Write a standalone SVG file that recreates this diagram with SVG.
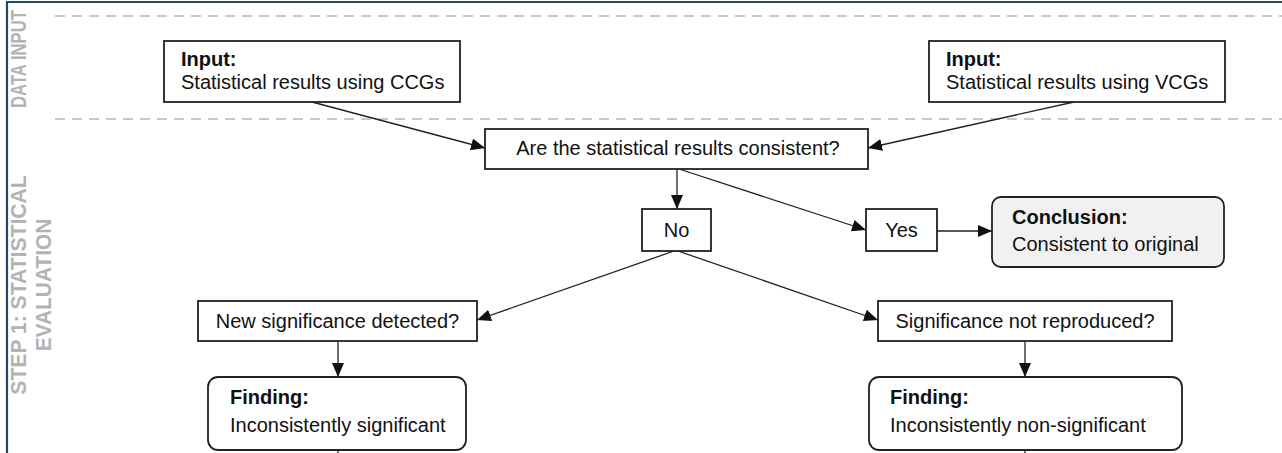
<svg xmlns="http://www.w3.org/2000/svg" width="1282" height="453" viewBox="0 0 1282 453">
  <defs>
    <marker id="arrow" viewBox="0 0 14 12" refX="14" refY="6" markerWidth="14" markerHeight="12" markerUnits="userSpaceOnUse" orient="auto">
      <path d="M0,0 L14,6 L0,12 Z" fill="#111"/>
    </marker>
    <style>
      .box { fill: #ffffff; stroke: #222; stroke-width: 1.8; }
      .term { fill: #ffffff; stroke: #222; stroke-width: 1.8; }
      .concl { fill: #f2f1f2; stroke: #222; stroke-width: 1.8; }
      .edge { fill: none; stroke: #222; stroke-width: 1.3; }
      .lane { stroke: #c8c8c8; stroke-width: 2; stroke-dasharray: 10 7; }
      .frame { stroke: #1f4a6b; stroke-width: 2.2; fill: none; }
      text { font-family: "Liberation Sans", Arial, sans-serif; fill: #111; }
      .t { font-size: 20px; }
      .b { font-size: 20px; font-weight: bold; }
      .c { text-anchor: middle; }
      .lane-label { font-size: 22px; font-weight: bold; fill: #b3b3b3; text-anchor: middle; }
    </style>
  </defs>

  <rect width="1282" height="453" fill="#ffffff"/>

  <!-- frame -->
  <path class="frame" d="M7,453 V2 H1282"/>

  <!-- swimlane separators -->
  <line class="lane" x1="55" y1="16" x2="1282" y2="16"/>
  <line class="lane" x1="55" y1="119" x2="1282" y2="119"/>

  <!-- lane labels (rotated, condensed along the reading direction) -->
  <text class="lane-label" transform="translate(26,59) rotate(-90) scale(0.76,1)">DATA INPUT</text>
  <text class="lane-label" transform="translate(26,285) rotate(-90) scale(0.96,1)">STEP 1: STATISTICAL</text>
  <text class="lane-label" transform="translate(51,285) rotate(-90) scale(0.95,1)">EVALUATION</text>

  <!-- connectors -->
  <g id="connectors">
    <line class="edge" x1="312" y1="102" x2="485" y2="148" marker-end="url(#arrow)"/>
    <line class="edge" x1="1074" y1="102" x2="868" y2="148" marker-end="url(#arrow)"/>
    <line class="edge" x1="677" y1="169" x2="677" y2="209" marker-end="url(#arrow)"/>
    <line class="edge" x1="679" y1="169" x2="866" y2="230" marker-end="url(#arrow)"/>
    <line class="edge" x1="937" y1="231" x2="992" y2="231" marker-end="url(#arrow)"/>
    <line class="edge" x1="674" y1="251" x2="477" y2="320" marker-end="url(#arrow)"/>
    <line class="edge" x1="678" y1="251" x2="878" y2="320" marker-end="url(#arrow)"/>
    <line class="edge" x1="338" y1="341" x2="338" y2="377" marker-end="url(#arrow)"/>
    <line class="edge" x1="1025" y1="341" x2="1025" y2="377" marker-end="url(#arrow)"/>
    <line class="edge" x1="338" y1="450" x2="338" y2="453"/>
    <line class="edge" x1="1025" y1="450" x2="1025" y2="453"/>
  </g>

  <g id="input-ccg">
    <rect class="box" x="164" y="41" width="296" height="61"/>
    <text class="b" x="181" y="66">Input:</text>
    <text class="t" x="181" y="89">Statistical results using CCGs</text>
  </g>

  <g id="input-vcg">
    <rect class="box" x="929" y="41" width="296" height="61"/>
    <text class="b" x="946" y="66">Input:</text>
    <text class="t" x="946" y="89">Statistical results using VCGs</text>
  </g>

  <g id="consistent">
    <rect class="box" x="485" y="129" width="383" height="40"/>
    <text class="t c" x="678" y="155">Are the statistical results consistent?</text>
  </g>

  <g id="no">
    <rect class="box" x="642" y="209" width="69" height="42"/>
    <text class="t c" x="676.5" y="237">No</text>
  </g>

  <g id="yes">
    <rect class="box" x="866" y="209" width="71" height="42"/>
    <text class="t c" x="901.5" y="237">Yes</text>
  </g>

  <g id="conclusion">
    <rect class="concl" x="992" y="197" width="232" height="70" rx="9"/>
    <text class="b" x="1012" y="224">Conclusion:</text>
    <text class="t" x="1012" y="251">Consistent to original</text>
  </g>

  <g id="new-significance">
    <rect class="box" x="198" y="301" width="279" height="40"/>
    <text class="t c" x="337.5" y="328">New significance detected?</text>
  </g>

  <g id="not-reproduced">
    <rect class="box" x="878" y="301" width="294" height="40"/>
    <text class="t c" x="1025" y="328">Significance not reproduced?</text>
  </g>

  <g id="finding-significant">
    <rect class="term" x="208" y="377" width="258" height="73" rx="10"/>
    <text class="b" x="230" y="404">Finding:</text>
    <text class="t" x="230" y="432">Inconsistently significant</text>
  </g>

  <g id="finding-nonsignificant">
    <rect class="term" x="869" y="377" width="313" height="73" rx="10"/>
    <text class="b" x="890" y="404">Finding:</text>
    <text class="t" x="890" y="432">Inconsistently non-significant</text>
  </g>
</svg>
